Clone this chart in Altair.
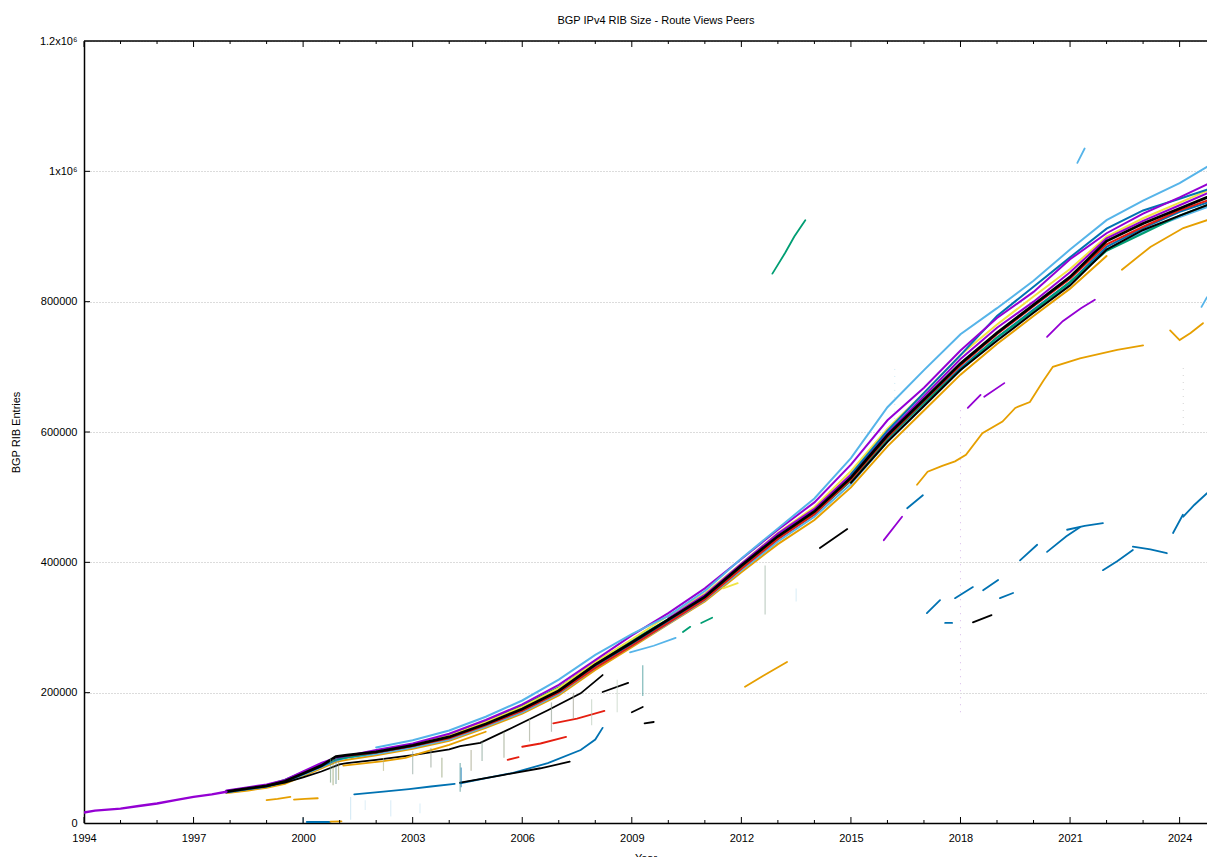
import altair as alt
import pandas as pd

TITLE = "BGP IPv4 RIB Size - Route Views Peers"
X_TITLE = "Year"
Y_TITLE = "BGP RIB Entries"

X_MAJOR = [1994, 1997, 2000, 2003, 2006, 2009, 2012, 2015, 2018, 2021, 2024]
X_MINOR = [y for y in range(1994, 2025) if y not in X_MAJOR]
Y_MAJOR = [0, 200000, 400000, 600000, 800000, 1000000, 1200000]
X_DOMAIN = [1994, 2024.75]
Y_DOMAIN = [0, 1200000]

PURPLE = "#9400d3"
GREEN = "#009e73"
LBLUE = "#56b4e9"
ORANGE = "#e69f00"
YELLOW = "#f0e442"
BLUE = "#0072b2"
RED = "#e51e10"
BLACK = "#000000"

# common year grid for the main band of peers (values in thousands)
GRID = [1997.9, 1998.5, 1999.0, 1999.5, 2000.0, 2000.5, 2000.9, 2001.2, 2002, 2003,
        2004, 2005, 2006, 2007, 2008, 2009, 2010, 2011, 2012, 2013, 2014, 2015,
        2016, 2017, 2018, 2019, 2020, 2021, 2022, 2023, 2024, 2024.75]

# (colour, first grid index, values in thousands)
BAND = [
    (ORANGE, 0, [46, 50, 54, 60, 72, 84, 94, 97, 104, 114, 126, 146, 168, 196, 235, 270, 305, 340,
                 385, 428, 465, 515, 578, 633, 688, 735, 778, 820, 870]),
    (LBLUE, 0, [47, 52, 56, 63, 74, 86, 96, 100, 106, 116, 128, 148, 170, 198, 238, 272, 306, 342,
                388, 432, 470, 520, 585, 640, 695, 742, 785, 828, 880, 908, 930, 945]),
    (BLUE, 0, [47, 52, 56, 63, 75, 87, 97, 101, 108, 118, 131, 151, 173, 201, 241, 275, 309, 344,
               391, 436, 474, 526, 590, 645, 698, 745, 788, 830, 884, 913, 938, 952]),
    (GREEN, 0, [49, 54, 58, 66, 78, 90, 98, 101, 108, 120, 134, 156, 180, 208, 246, 280, 313, 348,
                393, 437, 475, 525, 590, 645, 695, 745, 786, 830, 878, 905, 932, 948]),
    (RED, 7, [103, 108, 118, 130, 150, 172, 200, 238, 272, 307, 343, 390, 436, 474, 527, 592, 648,
              702, 750, 793, 835, 888, 915, 940, 955]),
    (YELLOW, 9, [120, 134, 155, 178, 207, 247, 282, 318, 352, 398, 445, 485, 540, 605, 660, 718,
                 765, 808, 850, 900, 928, 952, 970]),
    (PURPLE, 16, [314, 350, 398, 444, 482, 535, 598, 655, 712, 760, 800, 845, 897, 924, 948, 966]),
    (BLACK, 21, [522, 585, 640, 695, 740, 783, 825, 880, 910, 932, 948]),
    (BLUE, 21, [535, 602, 660, 718, 778, 823, 868, 912, 940, 958, 972]),
    (PURPLE, 0, [50, 55, 59, 66, 79, 92, 100, 103, 112, 122, 137, 158, 182, 212, 250, 288, 322, 360,
                 405, 450, 492, 550, 618, 668, 725, 775, 815, 865, 905, 935, 960, 980]),
    (LBLUE, 8, [116, 127, 142, 163, 188, 220, 258, 290, 318, 356, 406, 452, 498, 560, 638, 695, 750,
                790, 832, 880, 925, 955, 982, 1007]),
    (BLACK, 0, [48, 53, 57, 64, 76, 88, 102, 104, 109, 119, 132, 152, 175, 203, 243, 277, 312, 347,
                395, 440, 478, 530, 595, 650, 705, 752, 795, 838, 893, 920, 943, 960]),
]

# separate peers / pieces: (colour, [(year, thousands), ...])
SEGMENTS = [
    (PURPLE, [(1994.0, 16), (1994.3, 19), (1995.0, 22), (1995.5, 26), (1996.0, 30),
              (1996.5, 35), (1997.0, 40), (1997.5, 44), (1997.9, 48)]),
    (ORANGE, [(1999.0, 35), (1999.3, 37), (1999.65, 40)]),
    (ORANGE, [(1999.75, 36), (2000.05, 37), (2000.4, 38)]),
    (BLUE, [(2000.1, 1.5), (2000.75, 1.5)]),
    (ORANGE, [(2000.75, 2), (2001.05, 2.5)]),
    (BLACK, [(1998.9, 56), (1999.5, 62), (2000.0, 70), (2000.5, 79), (2001.0, 90), (2001.2, 92),
             (2002.0, 97), (2003.0, 104), (2004.0, 113), (2004.3, 118), (2004.85, 123),
             (2005.75, 147), (2006.7, 173), (2007.6, 199), (2008.2, 227)]),
    (ORANGE, [(2001.1, 88), (2001.6, 91), (2002.2, 95), (2002.8, 100), (2003.2, 107),
              (2004.0, 120), (2005.0, 140)]),
    (BLUE, [(2001.4, 44), (2002.2, 48), (2002.9, 52), (2003.5, 56), (2004.15, 60)]),
    (BLUE, [(2004.3, 61), (2005.75, 77), (2006.7, 92), (2007.6, 112), (2008.0, 128), (2008.2, 146)]),
    (BLACK, [(2004.3, 62), (2005.5, 74), (2006.5, 84), (2007.3, 94)]),
    (RED, [(2005.6, 97), (2005.9, 101)]),
    (RED, [(2006.0, 117), (2006.5, 122), (2007.2, 132)]),
    (RED, [(2006.85, 153), (2007.5, 160), (2008.25, 172)]),
    (BLACK, [(2008.2, 201), (2008.9, 215)]),
    (BLACK, [(2009.0, 170), (2009.3, 178)]),
    (BLACK, [(2009.35, 153), (2009.6, 155)]),
    (LBLUE, [(2008.95, 262), (2009.6, 272), (2010.2, 284)]),
    (GREEN, [(2010.4, 293), (2010.6, 301)]),
    (GREEN, [(2010.9, 307), (2011.2, 315)]),
    (YELLOW, [(2011.5, 360), (2011.9, 368)]),
    (ORANGE, [(2012.1, 209), (2012.6, 226), (2013.25, 247)]),
    (GREEN, [(2012.85, 843), (2013.2, 875), (2013.45, 900), (2013.75, 925)]),
    (BLACK, [(2014.15, 422), (2014.9, 451)]),
    (PURPLE, [(2015.9, 434), (2016.4, 470)]),
    (BLUE, [(2016.54, 483), (2016.97, 503)]),
    (ORANGE, [(2016.81, 519), (2017.1, 539), (2017.5, 548), (2017.85, 555), (2018.15, 565),
              (2018.6, 598), (2019.15, 616), (2019.5, 637), (2019.9, 646), (2020.26, 678),
              (2020.53, 700), (2021.27, 713), (2022.29, 726), (2023.0, 733)]),
    (PURPLE, [(2018.2, 637), (2018.55, 657)]),
    (PURPLE, [(2018.65, 654), (2019.2, 675)]),
    (PURPLE, [(2020.37, 746), (2020.8, 770), (2021.3, 790), (2021.68, 803)]),
    (BLUE, [(2017.08, 322), (2017.44, 342)]),
    (BLUE, [(2017.58, 307), (2017.77, 307)]),
    (BLUE, [(2017.85, 345), (2018.34, 362)]),
    (BLUE, [(2018.62, 357), (2019.03, 373)]),
    (BLUE, [(2019.08, 345), (2019.44, 353)]),
    (BLUE, [(2019.63, 403), (2020.1, 427)]),
    (BLUE, [(2020.37, 416), (2020.9, 440), (2021.27, 454)]),
    (BLUE, [(2020.92, 450), (2021.4, 456), (2021.9, 460)]),
    (BLUE, [(2021.9, 388), (2022.3, 402), (2022.72, 419)]),
    (BLUE, [(2022.72, 424), (2023.2, 420), (2023.65, 414)]),
    (BLUE, [(2023.82, 445), (2024.09, 473)]),
    (BLUE, [(2024.1, 470), (2024.4, 488), (2024.75, 506)]),
    (BLACK, [(2018.34, 308), (2018.85, 319)]),
    (ORANGE, [(2023.74, 756), (2024.0, 741), (2024.3, 752), (2024.64, 767)]),
    (ORANGE, [(2022.42, 849), (2023.2, 884), (2024.1, 913), (2024.75, 925)]),
    (LBLUE, [(2021.2, 1013), (2021.4, 1035)]),
    (LBLUE, [(2024.6, 792), (2024.75, 807)]),
]

# short vertical drop-outs / scattered points below the band: (year, low k, high k, colour)
SPIKES = [
    (2000.75, 62, 100, "#6f9a7a"), (2000.82, 58, 98, "#8a9a60"), (2000.9, 60, 100, "#5a8a8a"),
    (2000.97, 66, 96, "#9a9a55"), (2004.3, 48, 92, "#3a8a8a"), (2004.33, 55, 85, BLUE),
    (2002.2, 80, 100, "#b0b080"), (2003.0, 75, 110, "#8aa09a"), (2003.5, 85, 115, "#8a9a8a"),
    (2003.8, 70, 100, "#8a9a6a"), (2004.6, 80, 112, "#9a9a7a"),
    (2004.9, 95, 125, "#7a9a8a"), (2005.5, 100, 140, "#8a9a7a"), (2006.2, 125, 160, "#9aa08a"),
    (2006.8, 140, 185, "#8a9a8a"), (2007.4, 160, 200, "#9a9a8a"), (2001.3, 5, 40, "#c0e0f0"),
    (2002.4, 10, 35, "#c8e4f4"), (2003.2, 15, 30, "#c8e4f4"), (2009.3, 195, 242, "#2a8a8a"),
    (2012.65, 320, 395, "#9ab0a0"), (2013.5, 340, 360, "#c8e4f4"),
    (2000.0, 0, 8, BLUE), (2001.7, 20, 35, "#d0e8f4"), (2007.9, 150, 190, "#b8c8b8"),
    (2008.6, 170, 220, "#c0d0c0"),
]

# faint sparse peer dots, drawn dotted: (year, low k, high k, colour)
FAINT = [
    (2018.0, 170, 640, "#c8a0e0"), (2024.1, 600, 700, "#c0c0c0"), (2016.2, 620, 700, "#b8e0f0"),
]

rows = []
sid = 0
for color, start, vals in BAND:
    w = 2.8 if color == BLACK and start == 0 else 2.0
    for i, v in enumerate(vals):
        rows.append({"sid": sid, "year": GRID[start + i], "value": v * 1000, "color": color, "w": w})
    sid += 1
for color, pts in SEGMENTS:
    w = 2.4 if color == PURPLE and pts[0][0] == 1994.0 else 1.8
    for yr, v in pts:
        rows.append({"sid": sid, "year": yr, "value": v * 1000, "color": color, "w": w})
    sid += 1
lines_df = pd.DataFrame(rows)

spikes_df = pd.DataFrame([{"year": y, "value": lo * 1000, "hi": hi * 1000, "color": c}
                          for y, lo, hi, c in SPIKES])
faint_df = pd.DataFrame([{"year": y, "value": lo * 1000, "hi": hi * 1000, "color": c}
                         for y, lo, hi, c in FAINT])

W, H = 1123, 782
FONT = "Liberation Sans"
xs = alt.Scale(domain=X_DOMAIN, nice=False, zero=False)
ys = alt.Scale(domain=Y_DOMAIN, nice=False)

y_label_expr = ("datum.value == 1000000 ? '1x10\u2076' : datum.value == 1200000 ? "
                "'1.2x10\u2076' : format(datum.value, 'd')")

X_AXIS = alt.Axis(
    values=X_MAJOR, format="d", tickSize=0, domainColor="black", domainWidth=1.5,
    labelColor="black", labelFont=FONT, labelFontSize=11, labelPadding=9,
    labelFlush=False, labelOverlap=False,
    title=X_TITLE, titleFont=FONT, titleFontSize=11, titleFontWeight="normal",
    titleColor="black", titlePadding=9, grid=False)
Y_AXIS = alt.Axis(
    values=Y_MAJOR, labelExpr=y_label_expr, tickSize=0, domainColor="black",
    domainWidth=1.5, labelColor="black", labelFont=FONT, labelFontSize=11,
    labelPadding=7, labelFlush=False, labelOverlap=False,
    grid=True, gridColor="#b8b8b8", gridDash=[1, 2], gridWidth=1,
    title=Y_TITLE, titleFont=FONT, titleFontSize=11, titleFontWeight="normal",
    titleColor="black", titleX=-63, titleY=H / 2)

XENC = alt.X("year:Q", scale=xs, axis=X_AXIS)
YENC = alt.Y("value:Q", scale=ys, axis=Y_AXIS)

lines = alt.Chart(lines_df).mark_line(clip=True, strokeCap="round").encode(
    x=XENC, y=YENC,
    color=alt.Color("color:N", scale=None),
    strokeWidth=alt.StrokeWidth("w:Q", scale=None),
    detail="sid:N",
)

spikes = alt.Chart(spikes_df).mark_rule(strokeWidth=1.2, opacity=0.6).encode(
    x=XENC, y=YENC, y2="hi:Q",
    color=alt.Color("color:N", scale=None),
)

faint = alt.Chart(faint_df).mark_rule(strokeWidth=1, opacity=0.7, strokeDash=[1, 6]).encode(
    x=XENC, y=YENC, y2="hi:Q",
    color=alt.Color("color:N", scale=None),
)

major_df = pd.DataFrame({"year": X_MAJOR})
minor_df = pd.DataFrame({"year": X_MINOR})


def xticks(df, y1, y2):
    return alt.Chart(df).mark_rule(color="black", strokeWidth=1).encode(
        x=XENC, y=alt.value(y1), y2=alt.value(y2))


ytick_df = pd.DataFrame({"value": Y_MAJOR[1:-1]})
yticks = alt.Chart(ytick_df).mark_rule(color="black", strokeWidth=1).encode(
    y=YENC, x=alt.value(0), x2=alt.value(6))

top_df = pd.DataFrame({"value": [Y_DOMAIN[1]]})
top_border = alt.Chart(top_df).mark_rule(color="black", strokeWidth=1.5).encode(y=YENC)

title_df = pd.DataFrame({"t": [TITLE]})
title = alt.Chart(title_df).mark_text(font=FONT, fontSize=11, color="black",
                                      align="center", baseline="middle").encode(
    text="t:N", x=alt.value(572), y=alt.value(-20))

chart = alt.layer(
    lines, spikes, faint,
    xticks(major_df, H, H - 6), xticks(minor_df, H, H - 3),
    xticks(major_df, 0, 6), xticks(minor_df, 0, 3),
    yticks, top_border, title,
).properties(
    width=W, height=H,
    autosize=alt.AutoSizeParams(type="none"),
    padding={"left": 84, "top": 41, "right": 0, "bottom": 34},
    background="white",
).configure_view(stroke=None)

chart.save("out.html", embed_options={"renderer": "svg", "actions": False})
